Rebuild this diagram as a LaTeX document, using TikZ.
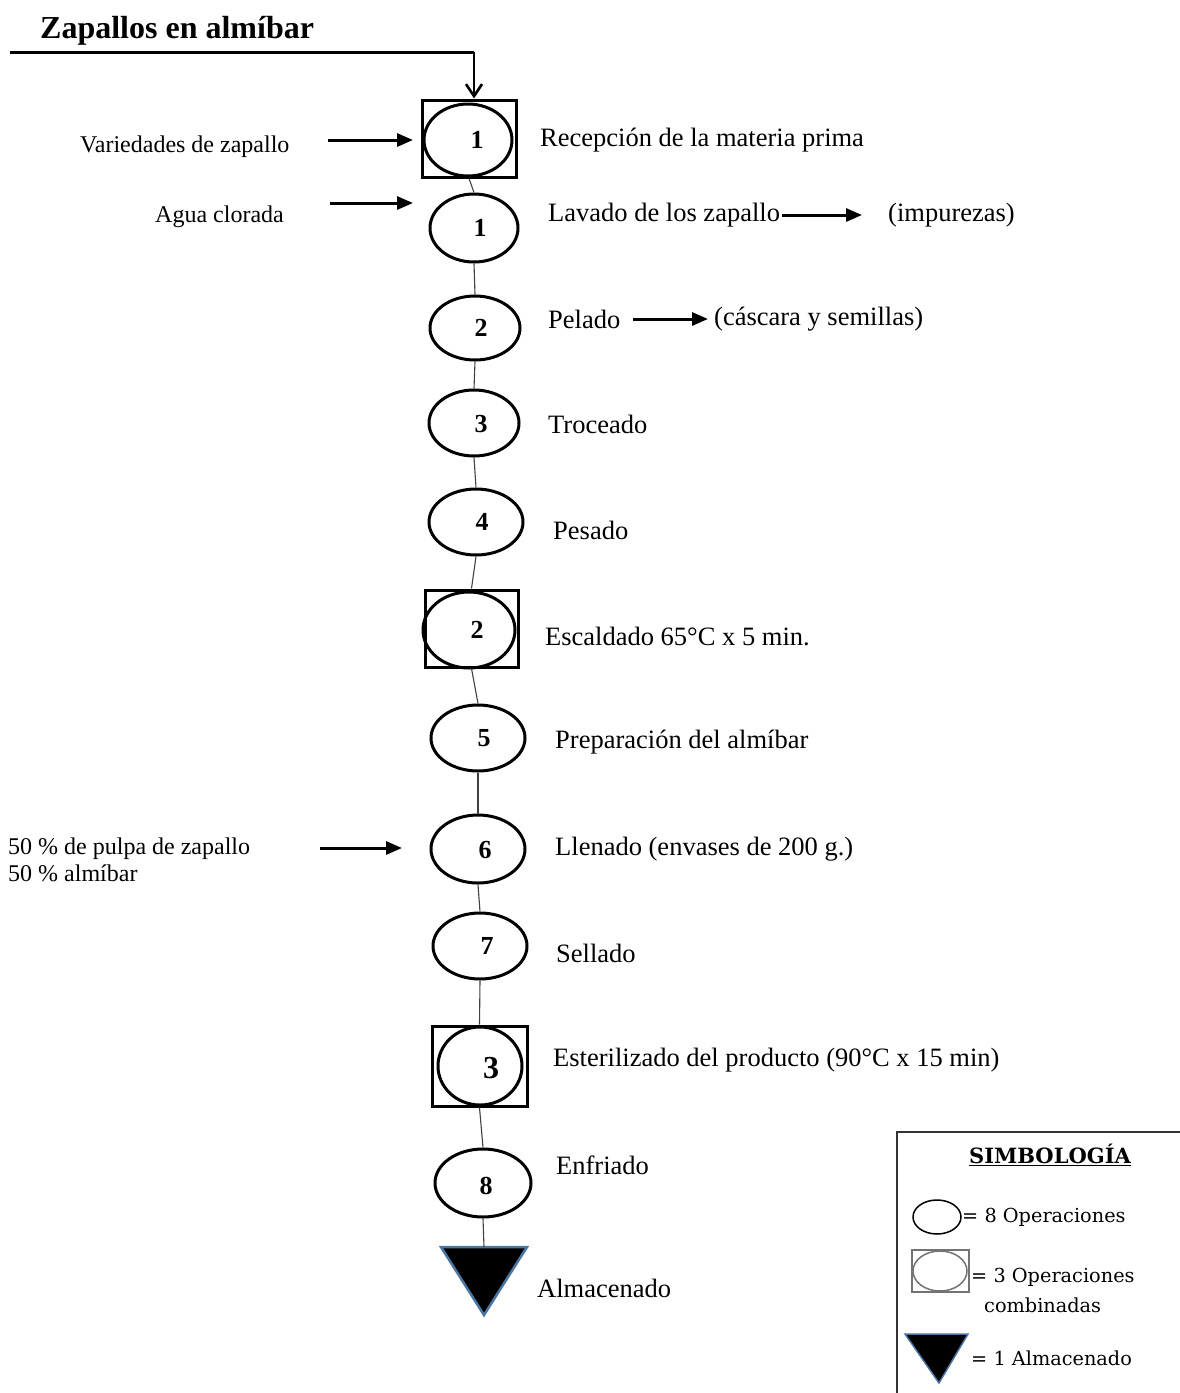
\documentclass[tikz,border=0pt]{standalone}
\usepackage{fontspec}
\setmainfont{Liberation Serif}
\newfontfamily\legfont{DejaVu Serif}
\usetikzlibrary{shapes.geometric,arrows.meta}
\begin{document}
\begin{tikzpicture}[x=1pt,y=-1pt,
  txt/.style={anchor=west,inner sep=0pt,font=\fontsize{26.5}{30}\selectfont},
  ltxt/.style={anchor=west,inner sep=0pt,font=\fontsize{24}{27}\selectfont},
  num/.style={inner sep=0pt,font=\fontsize{26}{28}\selectfont\bfseries},
  opel/.style={ellipse,draw,line width=3pt,inner sep=0pt},
  combbox/.style={rectangle,draw,line width=3pt,inner sep=0pt},
  conn/.style={draw=black!75,line width=1.1pt},
  flow/.style={line width=3pt,-{Triangle[length=16pt,width=13pt]}},
  legt/.style={anchor=west,inner sep=0pt,font=\legfont\fontsize{19.3}{22}\selectfont}
]
\useasboundingbox (0,0) rectangle (1179,1393);
\fill[white] (0,0) rectangle (1179,1393);

% title
\node[anchor=west,inner sep=0pt,font=\fontsize{32}{36}\selectfont\bfseries] (title) at (40,31) {Zapallos en almíbar};
\coordinate (tl) at (10,52);
\coordinate (tc) at (474,52);

% combined 1
\node[combbox,minimum width=94pt,minimum height=77pt] (b1) at (469,138.5) {};
\node[opel,minimum width=88pt,minimum height=72pt] (e1) at (468,140) {};
\node[num] (nb1) at (477,140) {1};

\node[opel,minimum width=88pt,minimum height=68pt] (o1) at (474,228) {};
\node[num] (n1) at (480,228) {1};
\node[opel,minimum width=90pt,minimum height=64pt] (o2) at (475,328) {};
\node[num] (n2) at (481,328) {2};
\node[opel,minimum width=90pt,minimum height=66pt] (o3) at (474,423) {};
\node[num] (n3) at (481,424) {3};
\node[opel,minimum width=94pt,minimum height=66pt] (o4) at (476,522) {};
\node[num] (n4) at (482,522) {4};

\node[combbox,minimum width=93pt,minimum height=77pt] (b2) at (471.5,628.5) {};
\node[opel,minimum width=92pt,minimum height=76pt] (e2) at (469,630) {};
\node[num] (nb2) at (477,630) {2};

\node[opel,minimum width=94pt,minimum height=66pt] (o5) at (478,738) {};
\node[num] (n5) at (484,738) {5};
\node[opel,minimum width=94pt,minimum height=68pt] (o6) at (478,849) {};
\node[num] (n6) at (485,850) {6};
\node[opel,minimum width=94pt,minimum height=66pt] (o7) at (480,946) {};
\node[num] (n7) at (487,946) {7};

\node[combbox,minimum width=95pt,minimum height=80pt] (b3) at (479.5,1066) {};
\node[opel,minimum width=84pt,minimum height=78pt] (e3) at (480,1066) {};
\node[num,font=\fontsize{32}{34}\selectfont\bfseries] (nb3) at (491,1068) {3};

\node[opel,minimum width=96pt,minimum height=68pt] (o8) at (483,1183) {};
\node[num] (n8) at (486,1186) {8};

% storage triangle
\coordinate (tri) at (484,1247);
\filldraw[fill=black,draw={rgb,255:red,74;green,118;blue,160},line width=2.5pt] (441,1247) -- (527,1247) -- (484,1315) -- cycle;

% vertical connectors
\draw[conn] (b1.south) -- (o1.north);
\draw[conn] (o1.south) -- (o2.north);
\draw[conn] (o2.south) -- (o3.north);
\draw[conn] (o3.south) -- (o4.north);
\draw[conn] (o4.south) -- (b2.north);
\draw[conn] (b2.south) -- (o5.north);
\draw[conn] (o5.south) -- (o6.north);
\draw[conn] (o6.south) -- (o7.north);
\draw[conn] (o7.south) -- (b3.north);
\draw[conn] (b3.south) -- (o8.north);
\draw[conn] (o8.south) -- (tri);

% top input line
\draw[line width=3pt] (tl) -- (tc);
\draw[line width=2.6pt,-{Straight Barb[length=12pt,width=16pt]}] (tc) -- (b1.north -| tc);

% right texts
\node[txt] (t1) at (540,140) {Recepción de la materia prima};
\node[txt] (t2) at (548,215) {Lavado de los zapallo};
\node[txt] (t2b) at (888,215) {(impurezas)};
\node[txt] (t3) at (548,319) {Pelado};
\node[txt] (t3b) at (714,319) {(cáscara y semillas)};
\node[txt] (t4) at (548,424) {Troceado};
\node[txt] (t5) at (553,530) {Pesado};
\node[txt] (t6) at (545,636) {Escaldado 65°C x 5 min.};
\node[txt] (t7) at (555,742) {Preparación del almíbar};
\node[txt] (t8) at (555,849) {Llenado (envases de 200 g.)};
\node[txt] (t9) at (556,953) {Sellado};
\node[txt] (t10) at (553,1060) {Esterilizado del producto (90°C x 15 min)};
\node[txt] (t11) at (556,1165) {Enfriado};
\node[txt] (t12) at (537,1288) {Almacenado};

\coordinate (a2s) at (782,215);
\coordinate (a2e) at (862,215);
\draw[flow] (a2s) -- (a2e);
\coordinate (a3s) at (633,319);
\coordinate (a3e) at (708,319);
\draw[flow] (a3s) -- (a3e);

% left inputs
\node[ltxt] (l1) at (80,147) {Variedades de zapallo};
\coordinate (l1s) at (328,140);
\coordinate (l1e) at (413,140);
\draw[flow] (l1s) -- (l1e);
\node[ltxt] (l2) at (155,217) {Agua clorada};
\coordinate (l2s) at (330,203);
\coordinate (l2e) at (413,203);
\draw[flow] (l2s) -- (l2e);
\node[ltxt,align=left,anchor=north west] (l3) at (8,838) {50 \% de pulpa de zapallo\\50 \% almíbar};
\coordinate (l3s) at (320,848);
\coordinate (l3e) at (402,848);
\draw[flow] (l3s) -- (l3e);

% legend
\draw[black!80,line width=1.5pt] (1181,1132) -- (897,1132) -- (897,1395);
\node[inner sep=0pt,font=\legfont\fontsize{21}{24}\selectfont\bfseries] (lt) at (1050,1155) {\underline{SIMBOLOGÍA}};
\node[ellipse,draw,line width=1.5pt,minimum width=48pt,minimum height=34pt,inner sep=0pt] (le1) at (937,1217) {};
\node[legt] (lx1) at (962,1217) {= 8 Operaciones};
\node[rectangle,draw=black!55,line width=1.5pt,minimum width=57pt,minimum height=42pt,inner sep=0pt] (lb2) at (940.5,1271) {};
\node[ellipse,draw=black!55,line width=1.5pt,minimum width=54pt,minimum height=40pt,inner sep=0pt] (le2) at (940,1271) {};
\node[legt] (lx2) at (971,1277) {= 3 Operaciones};
\node[legt] (lx2b) at (984,1305) {combinadas};
\coordinate (ltri) at (937,1334);
\filldraw[fill=black,draw={rgb,255:red,74;green,118;blue,160},line width=1.5pt] (905,1334) -- (968,1334) -- (939,1383) -- cycle;
\node[legt] (lx3) at (971,1358) {= 1 Almacenado};
\end{tikzpicture}
\end{document}
